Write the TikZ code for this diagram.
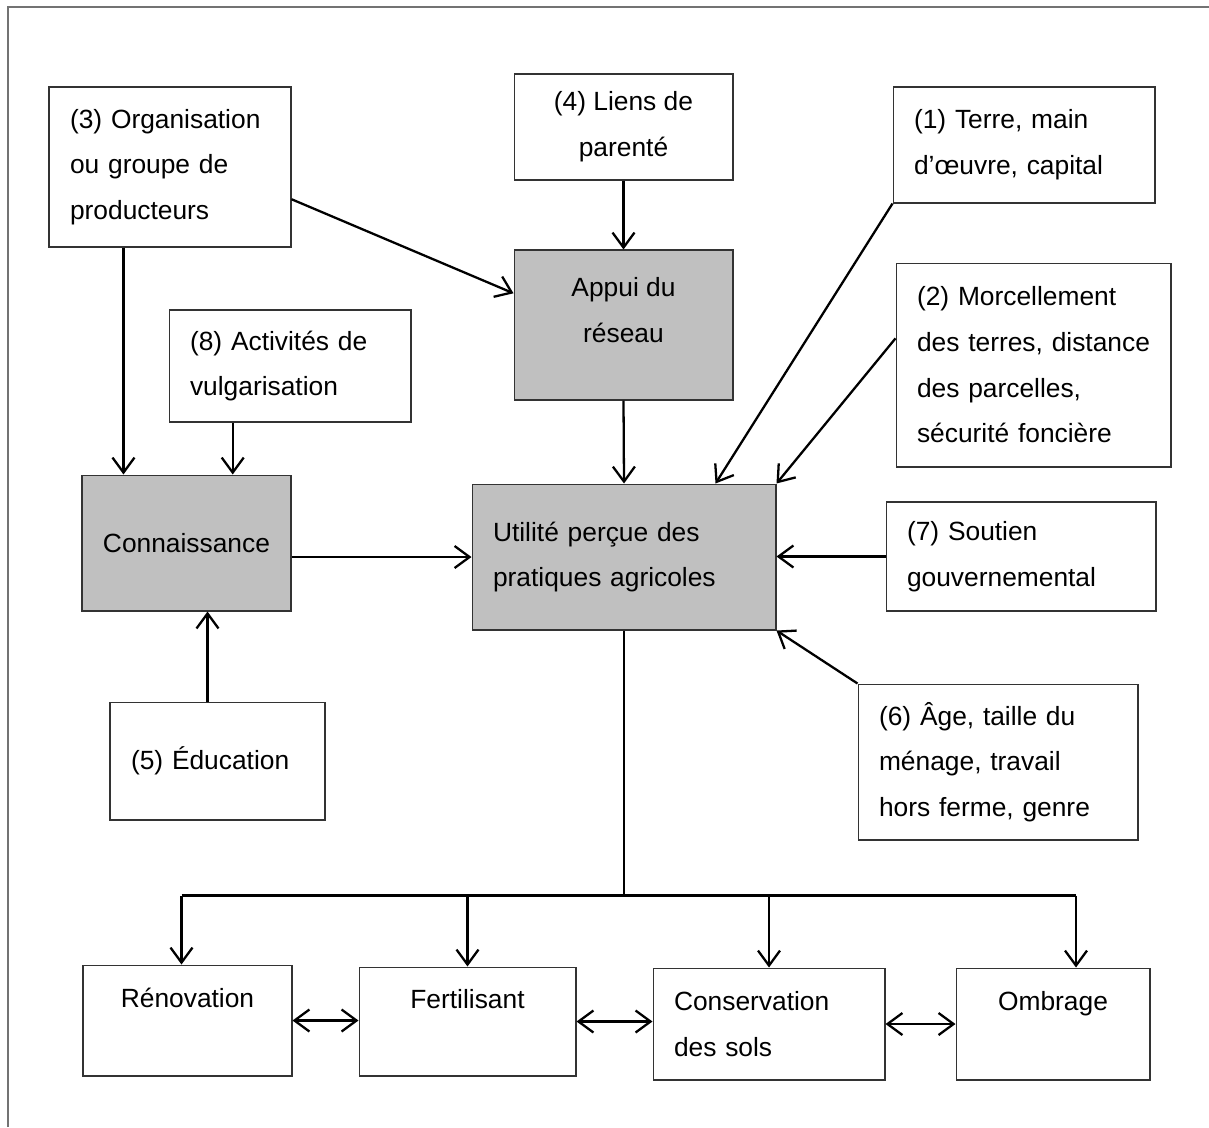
\documentclass[tikz,border=0pt]{standalone}
\usepackage{fontspec}
\setmainfont{Liberation Sans}
\usetikzlibrary{arrows.meta,calc}
\definecolor{boxgray}{HTML}{C0C0C0}
\tikzset{
  box/.style={draw=black!80, line width=0.6pt, inner xsep=0.42cm, inner ysep=0pt,
    font=\fontsize{15}{26}\selectfont},
  lbox/.style={box, align=left},
  cbox/.style={box, align=center},
  graybox/.style={fill=boxgray},
  arr/.style={-{Straight Barb[length=3mm,width=4.4mm]}, line width=1.3pt},
  dbl/.style={{Straight Barb[length=3mm,width=4.4mm]}-{Straight Barb[length=3mm,width=4.4mm]}, line width=1.3pt},
}
\begin{document}
\begin{tikzpicture}[x=0.02cm,y=-0.02cm]
      \useasboundingbox (0,0) rectangle (1209,1127);
      \draw[black!55, line width=0.6pt] (8,1127) -- (8,7) -- (1209,7);

      \node[lbox, text width=4.0cm, minimum width=4.84cm, minimum height=3.2cm] (org) at (170,167)
        {(3) Organisation\\ou groupe de\\producteurs};
      \node[cbox, minimum width=4.38cm, minimum height=2.12cm] (liens) at (623.5,127)
        {(4) Liens de\\parenté};
      \node[lbox, text width=4.4cm, minimum width=5.24cm, minimum height=2.32cm] (terre) at (1024,145)
        {(1) Terre, main\\d’œuvre, capital};
      \node[cbox, graybox, minimum width=4.38cm, minimum height=3.0cm] (appui) at (623.5,325)
        {Appui du\\réseau\\[-0.32cm]~};
      \node[lbox, text width=4.66cm, minimum width=5.5cm, minimum height=4.08cm] (morcel) at (1033.5,365)
        {(2) Morcellement\\des terres, distance\\des parcelles,\\sécurité foncière};
      \node[lbox, text width=4.0cm, minimum width=4.84cm, minimum height=2.24cm] (vulg) at (290,366)
        {(8) Activités de\\vulgarisation};
      \node[cbox, graybox, minimum width=4.18cm, minimum height=2.72cm] (conn) at (186.5,543)
        {Connaissance};
      \node[lbox, graybox, text width=5.24cm, minimum width=6.08cm, minimum height=2.92cm] (util) at (624,557)
        {Utilité perçue des\\pratiques agricoles};
      \node[lbox, text width=4.56cm, minimum width=5.36cm, minimum height=2.18cm] (soutien) at (1021,556.5)
        {(7) Soutien\\gouvernemental};
      \node[lbox, text width=4.76cm, minimum width=5.6cm, minimum height=3.12cm] (age) at (998,762)
        {(6) Âge, taille du\\ménage, travail\\hors ferme, genre};
      \node[lbox, text width=3.46cm, minimum width=4.3cm, minimum height=2.36cm] (educ) at (217.5,761)
        {(5) Éducation};

      \node[cbox, minimum width=4.18cm, minimum height=2.22cm] (renov) at (187.5,1020.5)
        {Rénovation\\~};
      \node[cbox, minimum width=4.34cm, minimum height=2.18cm] (fert) at (467.5,1021.5)
        {Fertilisant\\~};
      \node[lbox, text width=3.8cm, minimum width=4.64cm, minimum height=2.24cm] (cons) at (769,1024)
        {Conservation\\des sols};
      \node[cbox, minimum width=3.88cm, minimum height=2.24cm] (omb) at (1053,1024)
        {Ombrage\\~};

      \coordinate (c1) at ($(conn.north west)!0.2!(conn.north east)$);
      \coordinate (c2) at ($(conn.north west)!0.72!(conn.north east)$);
      \coordinate (c5) at ($(conn.south west)!0.6!(conn.south east)$);
      \draw[arr] ($(org.south east)!0.3!(org.north east)$) -- ($(appui.north west)!0.29!(appui.south west)$);
      \draw[arr] (liens.south) -- (appui.north);
      \draw[arr] (c1 |- org.south) -- (c1);
      \draw[arr] (c2 |- vulg.south) -- (c2);
      \draw[arr] (c5 |- educ.north) -- (c5);
      \draw[arr] (appui.south) -- (util.north);
      \draw[arr] (terre.south west) -- ($(util.north west)!0.8!(util.north east)$);
      \draw[arr] ($(morcel.north west)!0.37!(morcel.south west)$) -- (util.north east);
      \draw[arr] (conn.east |- util.west) -- (util.west);
      \draw[arr] (soutien.west) -- (soutien.west -| util.east);
      \draw[arr] (age.north west) -- (util.south east);

      \coordinate (bus) at ($(util.south)+(0,265)$);
      \coordinate (r1) at ($(renov.north)+(-6,0)$);
      \coordinate (o1) at ($(omb.north)+(23,0)$);
      \draw[line width=1.3pt] (util.south) -- (bus);
      \draw[line width=1.3pt] (bus -| r1) -- (bus -| o1);
      \foreach \n in {r1,fert.north,cons.north,o1}
        \draw[arr] (bus -| \n) -- (\n);

      \draw[dbl] (renov.east) -- (renov.east -| fert.west);
      \draw[dbl] (fert.east) -- (fert.east -| cons.west);
      \draw[dbl] (cons.east) -- (omb.west);
    \end{tikzpicture}
\end{document}
